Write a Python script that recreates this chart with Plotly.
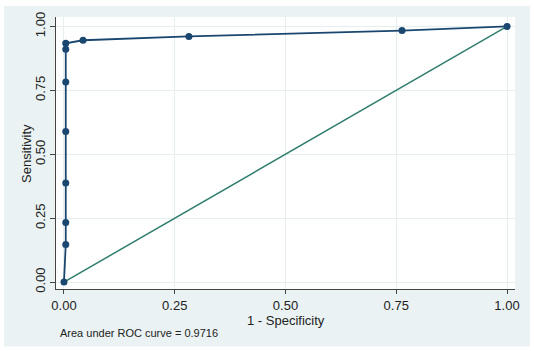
import plotly.graph_objects as go

# ROC curve points (1 - specificity, sensitivity)
fpr = [0.0, 0.004, 0.004, 0.004, 0.004, 0.004, 0.004, 0.004, 0.043, 0.282, 0.763, 1.0]
tpr = [0.0, 0.147, 0.233, 0.388, 0.589, 0.783, 0.911, 0.934, 0.946, 0.961, 0.984, 1.0]
ref_x = [0.0, 1.0]
ref_y = [0.0, 1.0]
ticks = [0.0, 0.25, 0.5, 0.75, 1.0]
tick_text = ["0.00", "0.25", "0.50", "0.75", "1.00"]
auc_text = "Area under ROC curve = 0.9716"
x_title = "1 - Specificity"
y_title = "Sensitivity"

navy = "#1a476f"
teal = "#2f7d6d"
bg = "#eaf2f3"
grid = "#e6eef0"

fig = go.Figure()
fig.add_trace(go.Scatter(x=ref_x, y=ref_y, mode="lines",
                         line=dict(color=teal, width=1.5), hoverinfo="skip"))
fig.add_trace(go.Scatter(x=fpr, y=tpr, mode="lines+markers",
                         line=dict(color=navy, width=1.8),
                         marker=dict(color=navy, size=7)))

font = "Liberation Sans, Arial, sans-serif"
W, H = 459, 274
fig.update_layout(
    width=534, height=351,
    margin=dict(l=56, r=19, t=15, b=62),
    paper_bgcolor=bg, plot_bgcolor="white",
    showlegend=False,
    font=dict(family=font, color="#222", size=13),
    xaxis=dict(range=[-0.018, 1.018], tickvals=ticks, ticktext=tick_text,
               showgrid=True, gridcolor=grid, gridwidth=1, zeroline=False,
               showline=True, linecolor="#444", linewidth=1,
               ticks="outside", ticklen=4, tickcolor="#444",
               tickfont=dict(size=13)),
    yaxis=dict(range=[-0.027, 1.037], tickvals=ticks, ticktext=tick_text,
               showgrid=True, gridcolor=grid, gridwidth=1, zeroline=False,
               showline=True, linecolor="#444", linewidth=1,
               ticks="outside", ticklen=5, tickcolor="#444", tickangle=-90,
               tickfont=dict(size=13)),
    shapes=[dict(type="rect", xref="paper", yref="paper",
                 x0=-56/W, x1=1+19/W, y0=-62/H, y1=1+15/H,
                 line=dict(color="white", width=8), fillcolor="rgba(0,0,0,0)",
                 layer="above")],
    annotations=[
        dict(text=auc_text, xref="paper", yref="paper",
             x=2/W, y=-44/H, xanchor="left", yanchor="middle",
             showarrow=False, font=dict(size=11, color="#222")),
        dict(text=x_title, xref="paper", yref="paper",
             x=(286-56)/W, y=-32/H, xanchor="center", yanchor="middle",
             showarrow=False, font=dict(size=13, color="#222")),
        dict(text=y_title, xref="paper", yref="paper",
             x=(27-56)/W, y=(289-153)/H, xanchor="center", yanchor="middle",
             textangle=-90, showarrow=False, font=dict(size=13, color="#222")),
    ],
)

fig.write_html("out.html")
